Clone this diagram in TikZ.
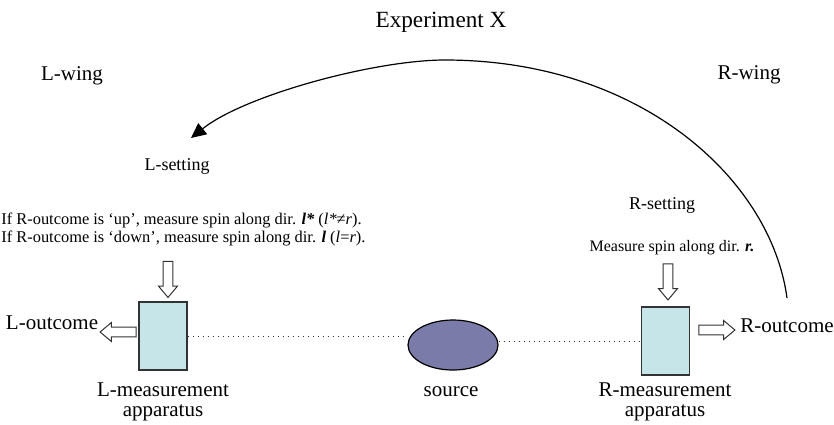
\documentclass[tikz,border=0pt]{standalone}
\usepackage{fontspec}
\setmainfont{Liberation Serif}
\usetikzlibrary{arrows.meta,shapes.geometric,shapes.arrows}
\definecolor{boxfill}{HTML}{C5E5E8}
\definecolor{srcfill}{HTML}{7B7BAA}
\definecolor{edge}{HTML}{333333}

\begin{document}
\begin{tikzpicture}[x=0.5pt, y=-0.5pt, every node/.style={inner sep=0pt},
	lab/.style={font=\fontsize{10.5}{10}\selectfont, align=center},
	small/.style={font=\fontsize{9}{9}\selectfont},
	tiny/.style={font=\fontsize{8.2}{7.5}\selectfont},
	apparatus/.style={draw=edge, line width=0.6pt, fill=boxfill, minimum width=24pt, minimum height=34pt},
	hollow/.style={single arrow, draw=edge, line width=0.5pt, fill=white, inner sep=2.2pt, single arrow head extend=2.3pt, single arrow tip angle=80, minimum height=18pt},
	beam/.style={dotted, line width=0.5pt, draw=edge}]
	\useasboundingbox (0,0) rectangle (834,424);
	\node[font=\fontsize{11.6}{12}\selectfont] (title) at (441,22) {Experiment X};
	\node[lab] (lwing) at (72,76) {L-wing};
	\node[lab] (rwing) at (749,75) {R-wing};
	% settings
	\node[small] (lset) at (177,166) {L-setting};
	\node[tiny, align=left, anchor=west] (lrule) at (1,229.5) {If R-outcome is ‘up’, measure spin along dir. \textbf{\textit{l*}} (\textit{l*}≠\textit{r}).\\If R-outcome is ‘down’, measure spin along dir. \textbf{\textit{l}} (\textit{l}=\textit{r}).};
	\node[small] (rset) at (662,205) {R-setting};
	\node[font=\fontsize{8}{8}\selectfont] (rrule) at (672,248) {Measure spin along dir. \textbf{\textit{r.}}};
	% apparatus and source
	\node[apparatus] (lbox) at (163,336) {};
	\node[apparatus] (rbox) at (665.5,341) {};
	\node[ellipse, draw=black, line width=0.6pt, fill=srcfill, minimum width=45pt, minimum height=25pt] (src) at (453,345) {};
	\draw[beam] (lbox.east) -- (lbox.east -| src.west);
	\draw[beam] (src.east |- rbox.west) -- (rbox.west);
	\node[hollow, rotate=-90] (lin) at (168,276.5) {};
	\node[hollow, rotate=-90] (rin) at (668,279) {};
	\node[hollow, rotate=180] (lout) at (121,332) {};
	\node[hollow] (rout) at (714,330) {};
	\node[lab] (lres) at (52,323) {L-outcome};
	\node[lab] (rres) at (787,326) {R-outcome};
	\node[lab] (lname) at (163,402) {L-measurement\\apparatus};
	\node[lab] (rname) at (665,402) {R-measurement\\apparatus};
	\node[lab] (srcname) at (451,392) {source};
	% signal from R to L
	\coordinate (arcfrom) at (787,298);
	\coordinate (arctop) at (445,60);
	\coordinate (arctip) at (191,138);
	\draw[line width=0.6pt, -{Triangle[length=7.5pt,width=7pt]}] (arcfrom) .. controls (771,179) and (640,60) .. (arctop) .. controls (375,60) and (245,95) .. (arctip);
\end{tikzpicture}
\end{document}
